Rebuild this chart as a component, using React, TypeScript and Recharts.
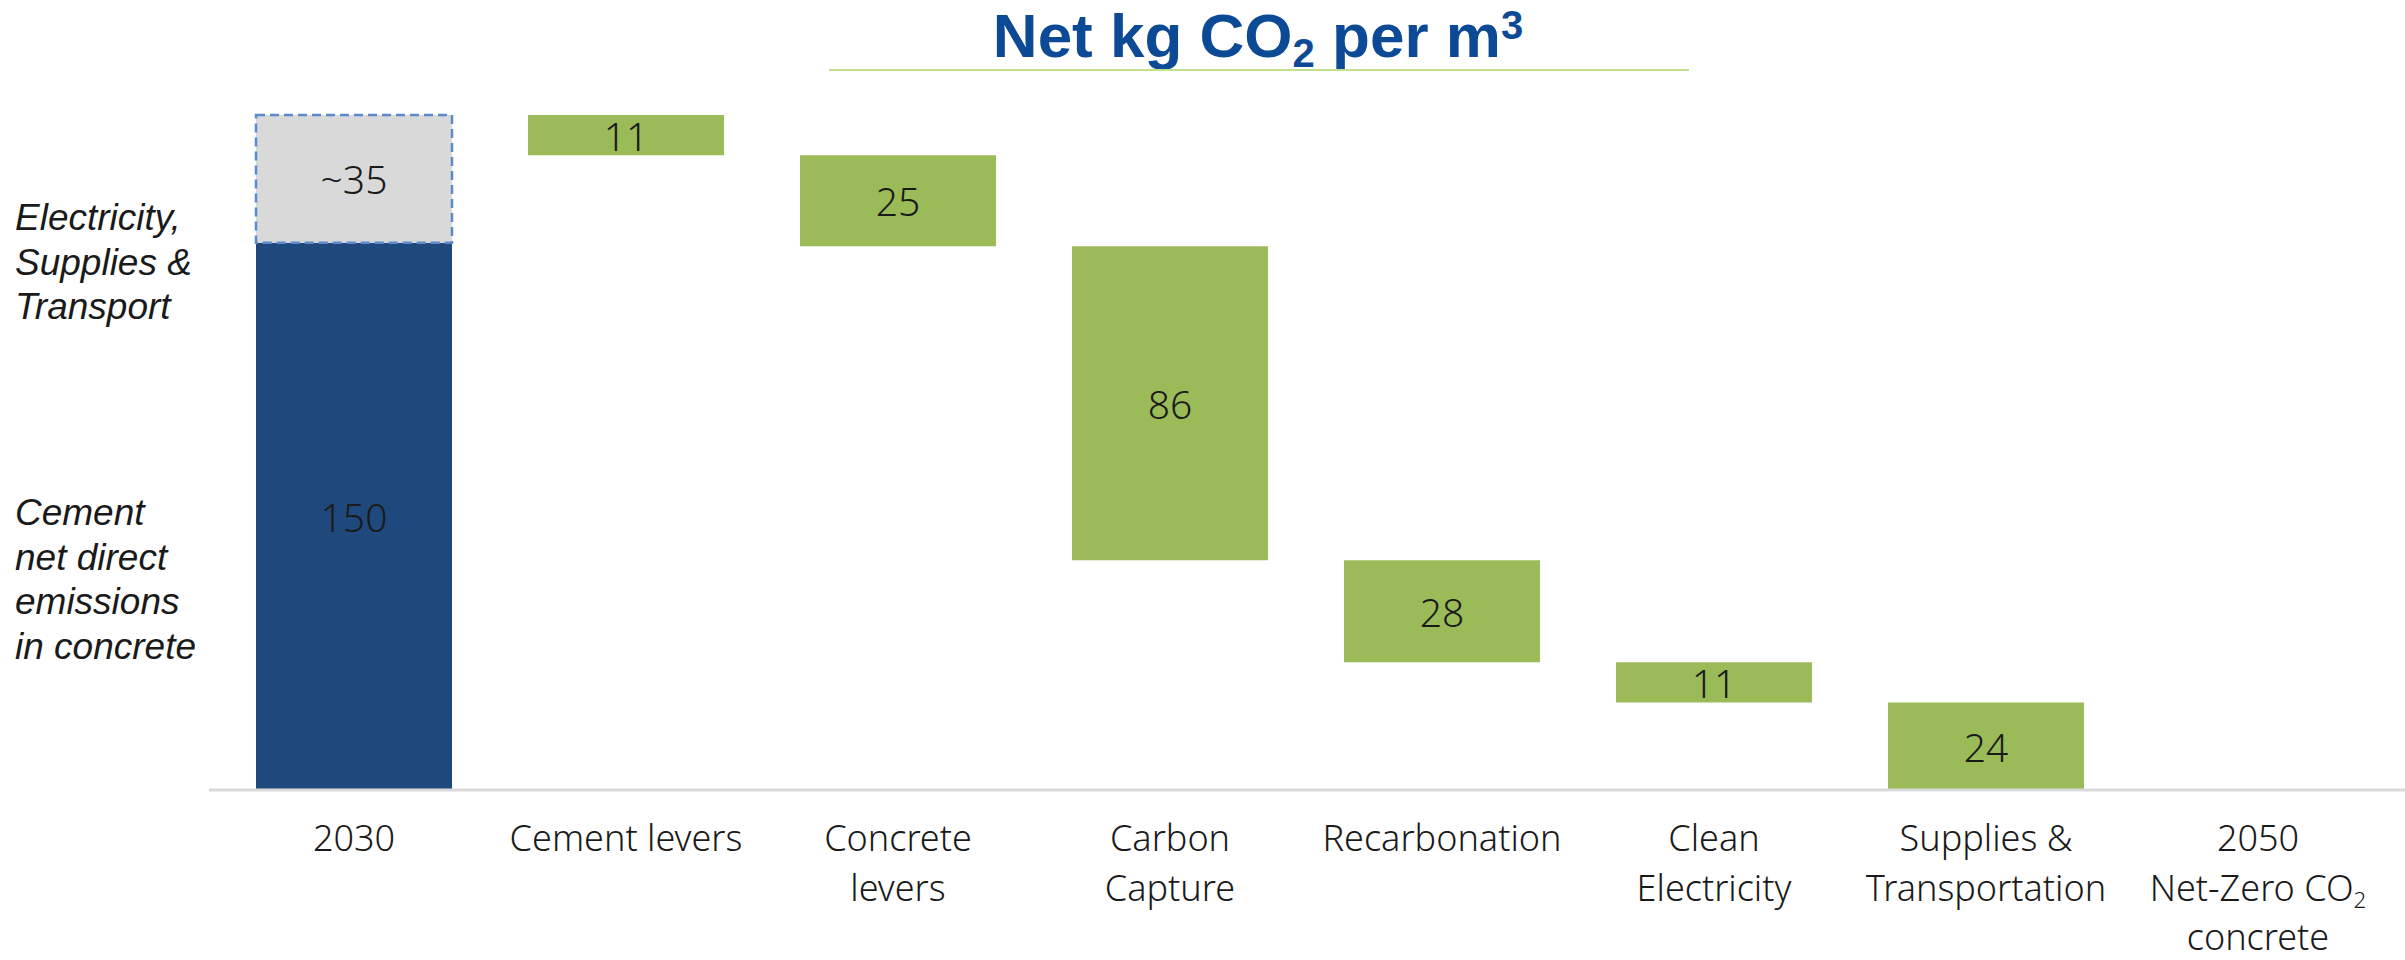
import { BarChart, Bar, XAxis, YAxis, LabelList } from 'recharts';

// ─── Data ─────────────────────────────────────────────────────────────────────

const CATEGORIES = [
  '2030',
  'Cement levers',
  'Concrete levers',
  'Carbon Capture',
  'Recarbonation',
  'Clean Electricity',
  'Supplies & Transportation',
  '2050 Net-Zero CO2 concrete',
];

// tick text split into lines; "_x" marks a subscript
const TICK_LINES = [
  ['2030'],
  ['Cement levers'],
  ['Concrete', 'levers'],
  ['Carbon', 'Capture'],
  ['Recarbonation'],
  ['Clean', 'Electricity'],
  ['Supplies &', 'Transportation'],
  ['2050', 'Net-Zero CO_2', 'concrete'],
];

const DIRECT_2030 = 150; // cement net direct emissions
const INDIRECT_2030 = 35; // electricity, supplies & transport (~35)
const LEVERS = [11, 25, 86, 28, 11, 24]; // reductions, in category order after 2030

const LEFT_NOTES = [
  ['Electricity,', 'Supplies &', 'Transport'],
  ['Cement', 'net direct', 'emissions', 'in concrete'],
];

// ─── Styles ───────────────────────────────────────────────────────────────────

const W = 2405;
const H = 960;
const NAVY = '#1F497D';
const GREEN = '#9BBB59';
const GREY = '#D9D9D9';
const DASH = '#5B8BCB';
const TITLE_BLUE = '#0C4A96';
const INK = '#1a1a1a';
const FONT = '"Noto Sans", "Open Sans", sans-serif';

// waterfall rows: transparent base + visible pieces
const rows = (() => {
  let remaining = DIRECT_2030 + INDIRECT_2030;
  const out: any[] = [{ name: CATEGORIES[0], base: 0, direct: DIRECT_2030, indirect: INDIRECT_2030, lever: null }];
  LEVERS.forEach((v, i) => {
    remaining -= v;
    out.push({ name: CATEGORIES[i + 1], base: remaining, direct: null, indirect: null, lever: v });
  });
  out.push({ name: CATEGORIES[CATEGORIES.length - 1], base: 0, direct: null, indirect: null, lever: null });
  return out;
})();

// ─── Pieces ───────────────────────────────────────────────────────────────────

function rich(text: string, size: number) {
  const parts = text.split('_');
  if (parts.length === 1) return text;
  return (
    <>
      {parts[0]}
      <tspan fontSize={size * 0.62} dy={size * 0.22}>{parts[1]}</tspan>
    </>
  );
}

function CategoryTick(props: any) {
  const { x, y, payload, index } = props;
  const lines = TICK_LINES[index ?? payload?.index] || [String(payload?.value)];
  const gap = 49.5;
  return (
    <g>
      {lines.map((l: string, i: number) => (
        <text
          key={i}
          x={x}
          y={y + 61 + i * gap}
          textAnchor="middle"
          fontFamily={FONT}
          fontSize={36}
          fontWeight={300}
          fill={INK}
        >
          {rich(l, 36)}
        </text>
      ))}
    </g>
  );
}

function CenterLabel(props: any) {
  const { x, y, width, height, value } = props;
  if (value === '' || value == null) return null;
  return (
    <text
      x={Number(x) + Number(width) / 2}
      y={Number(y) + Number(height) / 2}
      textAnchor="middle"
      dominantBaseline="central"
      fontFamily={FONT}
      fontSize={39}
      fontWeight={300}
      fill={INK}
    >
      {value}
    </text>
  );
}

const pick = (key: string, prefix = '') => (e: any) => {
  const v = e?.payload?.[key];
  return v ? `${prefix}${v}` : '';
};

// ─── Main ─────────────────────────────────────────────────────────────────────

export default function App() {
  return (
    <div style={{ position: 'absolute', left: 0, top: 0, width: W, height: H, background: '#fff' }}>
      <BarChart width={W} height={H} data={rows} margin={{ top: 115, right: 0, bottom: 0, left: 209 }} barSize={196}>
        <YAxis hide domain={[0, DIRECT_2030 + INDIRECT_2030]} />
        <XAxis
          dataKey="name"
          interval={0}
          height={170}
          padding={{ left: 9, right: 11 }}
          tickLine={false}
          tickSize={0}
          tickMargin={0}
          axisLine={{ stroke: GREY, strokeWidth: 3 }}
          tick={<CategoryTick />}
        />
        <Bar dataKey="base" stackId="w" fill="transparent" isAnimationActive={false} />
        <Bar dataKey="direct" stackId="w" fill={NAVY} isAnimationActive={false}>
          <LabelList valueAccessor={pick('direct')} content={<CenterLabel />} />
        </Bar>
        <Bar
          dataKey="indirect"
          stackId="w"
          fill={GREY}
          stroke={DASH}
          strokeWidth={2.5}
          strokeDasharray="9 5"
          isAnimationActive={false}
        >
          <LabelList valueAccessor={pick('indirect', '~')} content={<CenterLabel />} />
        </Bar>
        <Bar dataKey="lever" stackId="w" fill={GREEN} isAnimationActive={false}>
          <LabelList valueAccessor={pick('lever')} content={<CenterLabel />} />
        </Bar>
      </BarChart>

      {/* title, underline and the italic side notes */}
      <svg width={W} height={H} style={{ position: 'absolute', left: 0, top: 0, pointerEvents: 'none' }}>
        <text
          x={1258}
          y={57}
          textAnchor="middle"
          fontFamily='"Liberation Sans", Arial, sans-serif'
          fontWeight={700}
          fontSize={62}
          fill={TITLE_BLUE}
        >
          Net kg CO
          <tspan fontSize={40} dy={10}>2</tspan>
          <tspan dy={-10}> per m</tspan>
          <tspan fontSize={40} dy={-18}>3</tspan>
        </text>
        <line x1={829} x2={1689} y1={70} y2={70} stroke="#C4DF8C" strokeWidth={2} />
        {LEFT_NOTES.map((group, g) =>
          group.map((l, i) => (
            <text
              key={`${g}-${i}`}
              x={15}
              y={(g === 0 ? 230 : 525) + i * 44.6}
              fontFamily='"Liberation Sans", Arial, sans-serif'
              fontStyle="italic"
              fontSize={37}
              fill={INK}
            >
              {l}
            </text>
          )),
        )}
      </svg>
    </div>
  );
}
